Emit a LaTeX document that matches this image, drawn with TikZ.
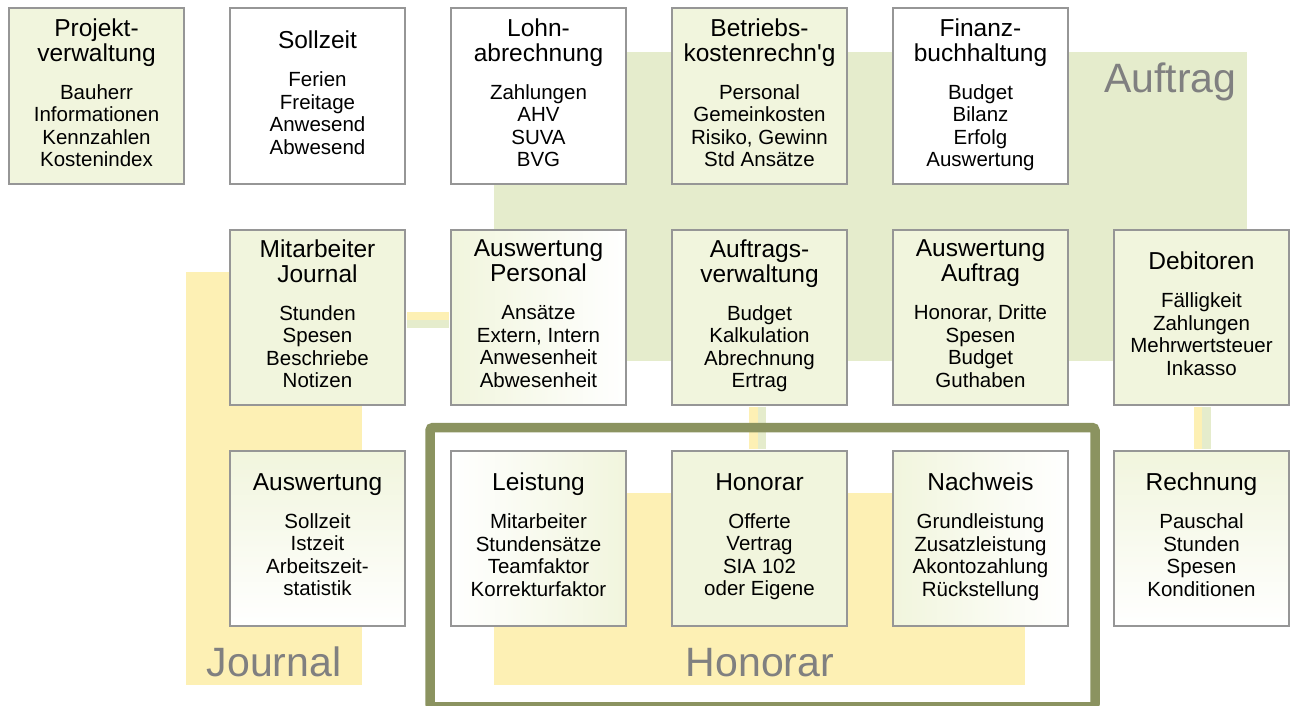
\documentclass[tikz,border=0pt]{standalone}
\usepackage{fontspec}
\setmainfont{Liberation Sans}
\usepackage{xcolor}
\usetikzlibrary{positioning}

\definecolor{boxgreen}{RGB}{241,245,221}
\definecolor{auftraggreen}{RGB}{229,236,204}
\definecolor{journalyellow}{RGB}{253,240,180}
\definecolor{frameolive}{RGB}{139,147,96}
\definecolor{bordergray}{RGB}{150,150,150}
\definecolor{labelgray}{RGB}{128,128,128}

\newcommand{\titlefont}{\fontsize{24.5}{24}\selectfont}
\newcommand{\itemfont}{\fontsize{20.5}{22.5}\selectfont}
\newcommand{\cardtext}[2]{%
  \begin{tabular}{@{}c@{}}
    \titlefont\begin{tabular}[b]{@{}c@{}}#1\end{tabular}\\[18.5pt]
    \itemfont\begin{tabular}[t]{@{}c@{}}#2\end{tabular}
  \end{tabular}}

\begin{document}
\begin{tikzpicture}[
  x=1pt, y=-1pt,
  node distance=44pt,
  card/.style={draw=bordergray, line width=2pt, minimum width=175pt,
               minimum height=175pt, inner sep=0pt, fill=white},
  greencard/.style={card, fill=boxgreen},
  region/.style={font=\fontsize{41}{45}\selectfont, text=labelgray},
  linkyellow/.style={draw=journalyellow, line width=8.5pt,
                     shorten <=1pt, shorten >=1pt},
  linkgreen/.style={draw=auftraggreen, line width=8.5pt,
                    shorten <=1pt, shorten >=1pt}
]
\useasboundingbox (0,0) rectangle (1296,706);

% coloured areas behind the cards
\fill[auftraggreen] (494,52) rectangle (1247,361);
\fill[journalyellow] (186,272) rectangle (362,685);
\fill[journalyellow] (494,493) rectangle (1025,685);
\node[region, anchor=base east] (auftraglbl) at (1240,93) {Auftrag};
\node[region, anchor=base] (journallbl) at (274,676) {Journal};
\node[region, anchor=base] (honorarlbl) at (760,676) {Honorar};

% first row
\node[greencard] (pv) at (96.5,96)
  {\cardtext{Projekt-\\verwaltung}{Bauherr\\Informationen\\Kennzahlen\\Kostenindex}};
\node[card, right=of pv] (sz)
  {\cardtext{Sollzeit}{Ferien\\Freitage\\Anwesend\\Abwesend}};
\node[card, right=of sz] (la)
  {\cardtext{Lohn-\\abrechnung}{Zahlungen\\AHV\\SUVA\\BVG}};
\node[greencard, right=of la] (bk)
  {\cardtext{Betriebs-\\kostenrechn\textquotesingle g}{Personal\\Gemeinkosten\\Risiko, Gewinn\\Std Ansätze}};
\node[card, right=of bk] (fb)
  {\cardtext{Finanz-\\buchhaltung}{Budget\\Bilanz\\Erfolg\\Auswertung}};

% second row
\node[greencard, below=of sz] (mj)
  {\cardtext{Mitarbeiter\\Journal}{Stunden\\Spesen\\Beschriebe\\Notizen}};
\node[card, left color=boxgreen, right color=white, right=of mj] (ap)
  {\cardtext{Auswertung\\Personal}{Ansätze\\Extern, Intern\\Anwesenheit\\Abwesenheit}};
\node[greencard, right=of ap] (av)
  {\cardtext{Auftrags-\\verwaltung}{Budget\\Kalkulation\\Abrechnung\\Ertrag}};
\node[greencard, right=of av] (aa)
  {\cardtext{Auswertung\\Auftrag}{Honorar, Dritte\\Spesen\\Budget\\Guthaben}};
\node[greencard, right=of aa] (deb)
  {\cardtext{Debitoren}{Fälligkeit\\Zahlungen\\Mehrwertsteuer\\Inkasso}};

% third row
\node[card, top color=boxgreen, bottom color=white, below=of mj] (aw)
  {\cardtext{Auswertung}{Sollzeit\\Istzeit\\Arbeitszeit-\\statistik}};
\node[card, left color=white, right color=boxgreen, right=of aw] (lst)
  {\cardtext{Leistung}{Mitarbeiter\\Stundensätze\\Teamfaktor\\Korrekturfaktor}};
\node[greencard, right=of lst] (hon)
  {\cardtext{Honorar}{Offerte\\Vertrag\\SIA 102\\oder Eigene}};
\node[card, left color=boxgreen, right color=white, right=of hon] (nw)
  {\cardtext{Nachweis}{Grundleistung\\Zusatzleistung\\Akontozahlung\\Rückstellung}};
\node[card, top color=boxgreen, bottom color=white, right=of nw] (rg)
  {\cardtext{Rechnung}{Pauschal\\Stunden\\Spesen\\Konditionen}};

% links
\draw[linkyellow] ([yshift=1pt]mj.east) -- ([yshift=1pt]ap.west);
\draw[linkgreen] ([yshift=-7pt]mj.east) -- ([yshift=-7pt]ap.west);
\draw[linkyellow] ([xshift=-6pt]av.south) -- ([xshift=-6pt]hon.north);
\draw[linkgreen] ([xshift=2.5pt]av.south) -- ([xshift=2.5pt]hon.north);
\draw[linkyellow] ([xshift=-3.5pt]deb.south) -- ([xshift=-3.5pt]rg.north);
\draw[linkgreen] ([xshift=5pt]deb.south) -- ([xshift=5pt]rg.north);

% Honorar frame
\draw[frameolive, line width=9.5pt, rounded corners=3pt]
  (430,427.5) rectangle (1095,706.75);
\end{tikzpicture}
\end{document}
